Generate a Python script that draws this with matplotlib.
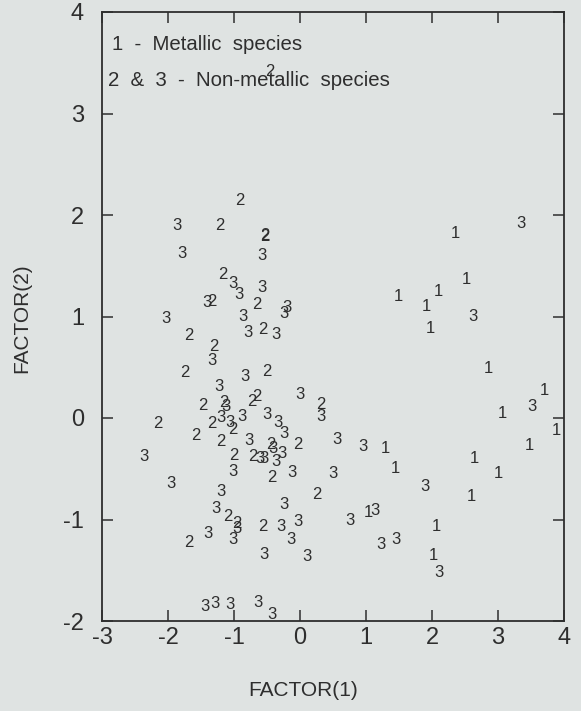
import matplotlib
matplotlib.use("Agg")
import matplotlib.pyplot as plt

# Species class 1 (metallic)
x1 = [2.35, 2.52, 2.10, 1.49, 1.92, 1.98, 2.86, 3.70, 3.06, 3.88, 3.48, 1.30,
      2.64, 1.45, 3.00, 2.60, 1.03, 2.07, 2.02]
y1 = [1.82, 1.36, 1.25, 1.20, 1.10, 0.88, 0.49, 0.27, 0.04, -0.12, -0.27, -0.30,
      -0.40, -0.50, -0.55, -0.77, -0.93, -1.07, -1.35]

# Species class 2 (non-metallic)
x2 = [-0.45, -0.91, -1.22, -0.54, -0.53, -1.17, -1.34, -0.66, -0.57, -1.68, -1.30,
      -1.74, -0.51, -1.47, -0.73, -0.66, 0.32, -2.15, -1.58, -1.34, -1.15, -1.02,
      -1.20, -0.44, -0.03, -1.00, -0.71, -0.43, 0.25, -1.10, -0.96, -1.68, -0.56]
y2 = [3.41, 2.14, 1.90, 1.79, 1.80, 1.41, 1.15, 1.12, 0.87, 0.81, 0.70,
      0.45, 0.46, 0.12, 0.16, 0.21, 0.13, -0.05, -0.17, -0.05, 0.15, -0.11,
      -0.23, -0.26, -0.26, -0.37, -0.38, -0.59, -0.75, -0.97, -1.04, -1.23, -1.07]

# Species class 3 (non-metallic)
x3 = [-1.86, -1.79, -0.58, -1.02, -0.92, -0.57, -1.41, -0.20, -0.24, -2.03, -0.86,
      -0.79, -0.37, -1.33, -0.83, -1.23, 0.00, 0.32, -1.12, -1.20, -1.06, -0.88,
      -0.50, -0.34, -0.25, -0.77, -0.41, -0.27, 0.56, 0.96, -2.36, -0.61, -0.55,
      -0.37, -1.01, -0.12, 0.50, -1.95, -1.20, -1.27, -0.24, 1.90, 1.14, 0.75,
      1.23, 1.45, 2.10, 3.34, 2.62, 3.51, -1.40, -0.96, -1.02, -0.29, -0.03,
      -0.13, -0.55, 0.10, -1.44, -1.29, -1.06, -0.64, -0.43]
y3 = [1.90, 1.62, 1.60, 1.33, 1.22, 1.29, 1.14, 1.09, 1.03, 0.98, 1.00,
      0.84, 0.82, 0.57, 0.41, 0.31, 0.23, 0.01, 0.11, 0.00, -0.04, 0.01,
      0.03, -0.04, -0.15, -0.22, -0.30, -0.35, -0.21, -0.28, -0.38, -0.40, -0.40,
      -0.43, -0.53, -0.54, -0.55, -0.65, -0.72, -0.89, -0.85, -0.67, -0.91, -1.01,
      -1.25, -1.20, -1.52, 1.92, 1.00, 0.11, -1.14, -1.09, -1.20, -1.07, -1.02,
      -1.20, -1.34, -1.36, -1.86, -1.83, -1.84, -1.82, -1.94]

xticks = [-3, -2, -1, 0, 1, 2, 3, 4]
yticks = [-2, -1, 0, 1, 2, 3, 4]
legend_lines = ["1  -  Metallic  species", "2  &  3  -  Non-metallic  species"]

bg = "#dfe3e2"
ink = "#2e2e2e"
font = "Liberation Sans"

fig = plt.figure(figsize=(5.81, 7.11), dpi=100, facecolor=bg)
ax = fig.add_axes([102/581, 90/711, 462/581, 609/711], facecolor=bg)

for xs, ys, lab in [(x1, y1, "1"), (x2, y2, "2"), (x3, y3, "3")]:
    for xv, yv in zip(xs, ys):
        ax.text(xv, yv, lab, ha="center", va="center", fontsize=12,
                color=ink, family=font)

ax.set_xlim(-3, 4)
ax.set_ylim(-2, 4)
ax.set_xticks(xticks)
ax.set_yticks(yticks)
ax.set_xticklabels([("-" + str(-t)) if t < 0 else str(t) for t in xticks])
ax.set_yticklabels([("-" + str(-t)) if t < 0 else str(t) for t in yticks])
ax.tick_params(direction="in", length=8, width=1.1, color=ink, labelcolor=ink,
               labelsize=17, top=True, right=True)
ax.tick_params(axis="y", pad=13)
ax.tick_params(axis="x", pad=4)
for lbl in ax.get_xticklabels() + ax.get_yticklabels():
    lbl.set_family(font)
for s in ax.spines.values():
    s.set_color(ink)
    s.set_linewidth(1.3)

ax.text(0.022, 0.946, legend_lines[0], transform=ax.transAxes, fontsize=14.7,
        color=ink, family=font, va="center", ha="left")
ax.text(0.013, 0.888, legend_lines[1], transform=ax.transAxes, fontsize=14.7,
        color=ink, family=font, va="center", ha="left")

fig.text(303/581, 1 - 690/711, "FACTOR(1)", ha="center", va="center",
         fontsize=15, color=ink, family=font)
fig.text(22/581, 1 - 318/711, "FACTOR(2)", ha="center", va="center",
         rotation=90, fontsize=15, color=ink, family=font)

fig.savefig("out.png", dpi=100, facecolor=bg)
